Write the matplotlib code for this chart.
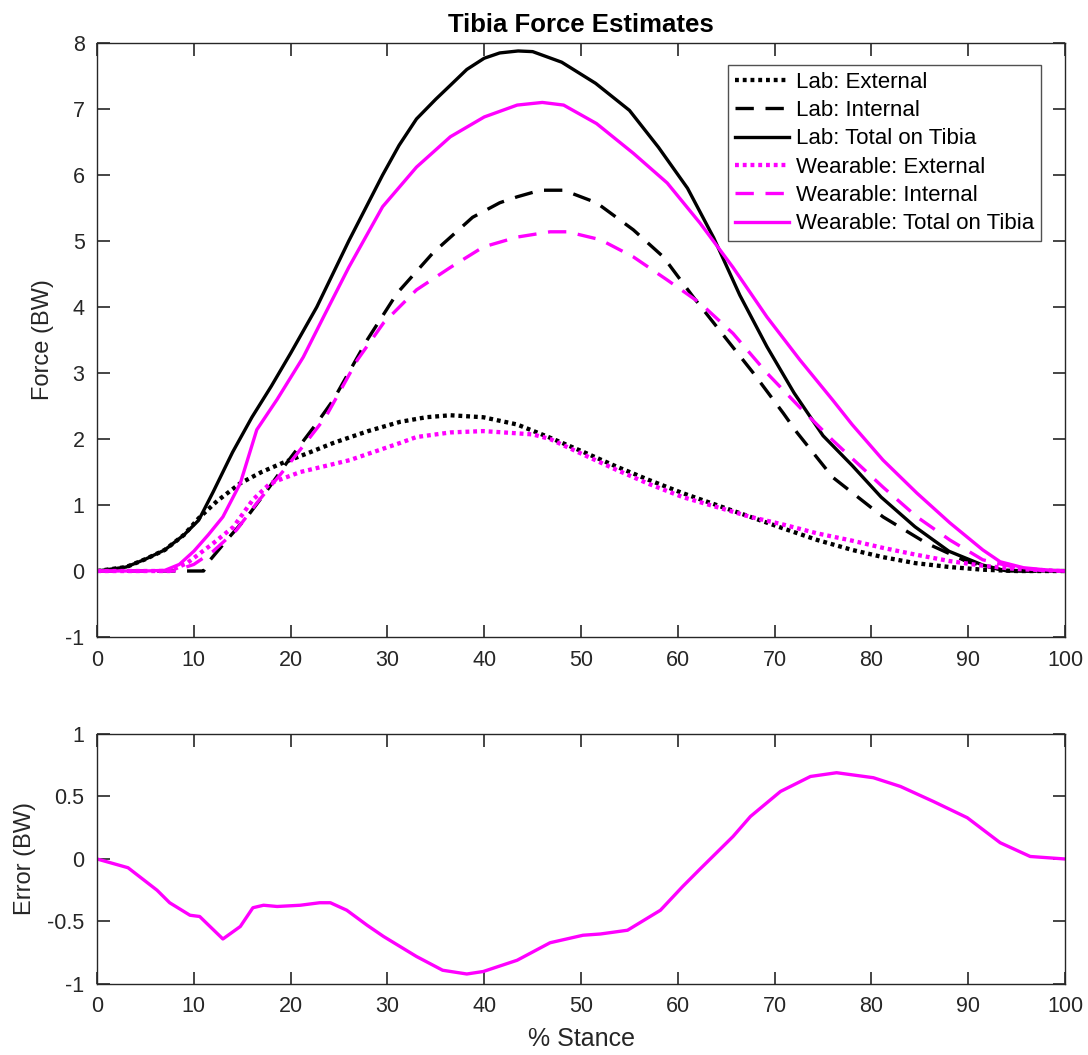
import numpy as np
import matplotlib
matplotlib.use('Agg')
import matplotlib.pyplot as plt

plt.rcParams['font.family'] = ['Liberation Sans', 'DejaVu Sans']
plt.rcParams['axes.unicode_minus'] = False

# % stance samples and force estimates (BW)
lab_ext_x = [0, 3, 5, 7, 9, 10.5, 12.4, 14.8, 17, 19.2, 21.5, 24.4, 28, 31.3, 34, 36.5, 39.9, 43.4, 46.8,
             50, 53.7, 57, 60.5, 64, 67.5, 71, 74.4, 78, 81.2, 84.5, 88.1, 91.5, 95, 100]
lab_ext_y = [0, 0.06, 0.18, 0.32, 0.55, 0.8, 1.06, 1.33, 1.5, 1.64, 1.77, 1.94, 2.12, 2.26, 2.33, 2.36, 2.33,
             2.22, 2.02, 1.82, 1.58, 1.38, 1.18, 1.0, 0.82, 0.64, 0.47, 0.32, 0.21, 0.12, 0.06, 0.02, 0.0, 0]

lab_int_x = [0, 5, 7, 10.5, 11, 11.7, 13.7, 15.5, 17.6, 19.6, 22.7, 24.4, 27.9, 31, 34.7, 38.8, 41.6, 43.4,
             45.8, 48.2, 51.6, 55.4, 58.5, 61.6, 65.1, 67.8, 70.9, 72.3, 76, 81.2, 85.7, 89.9, 93.3, 96, 100]
lab_int_y = [0, 0, 0, 0, 0, 0.17, 0.52, 0.82, 1.23, 1.64, 2.24, 2.59, 3.5, 4.21, 4.82, 5.36, 5.58, 5.67,
             5.77, 5.77, 5.58, 5.17, 4.76, 4.15, 3.5, 3.0, 2.39, 2.1, 1.42, 0.82, 0.42, 0.14, 0.02, 0, 0]

lab_tot_x = [0, 3, 5, 7, 9, 10.5, 12, 14, 16, 18, 20, 22.7, 26, 29.5, 31.2, 33, 35, 36.5, 38.2, 40, 41.6,
             43.5, 45, 48, 51.5, 55, 58, 61, 63.7, 66.4, 69.2, 72, 75, 78, 81, 84.5, 88, 91.5, 94, 97, 100]
lab_tot_y = [0, 0.06, 0.18, 0.32, 0.55, 0.77, 1.2, 1.8, 2.33, 2.8, 3.3, 4.0, 5.0, 6.0, 6.45, 6.85, 7.15,
             7.36, 7.6, 7.77, 7.85, 7.88, 7.87, 7.71, 7.39, 6.98, 6.42, 5.8, 5.05, 4.18, 3.4, 2.7, 2.05,
             1.6, 1.12, 0.67, 0.3, 0.09, 0.0, 0, 0]

wear_ext_x = [0, 5, 7.5, 9.3, 12, 14.1, 16.1, 17.9, 21, 26.1, 31.3, 33, 36.5, 39.9, 42, 45, 46.8, 50, 53.7,
              57, 60.5, 64, 67.5, 71, 74.4, 78, 81.2, 84.5, 88.1, 91.5, 95, 100]
wear_ext_y = [0, 0, 0, 0.12, 0.42, 0.67, 1.08, 1.33, 1.5, 1.68, 1.94, 2.03, 2.1, 2.12, 2.1, 2.07, 2.0,
              1.78, 1.53, 1.32, 1.12, 0.97, 0.82, 0.7, 0.57, 0.46, 0.35, 0.25, 0.15, 0.08, 0.03, 0]

wear_int_x = [0, 5, 8, 10, 12, 14.4, 16.5, 19.6, 21.7, 23.6, 26.9, 29.6, 33, 36.5, 39.9, 43.4, 46.8, 48.6,
              52, 55.4, 58.9, 62.3, 65.7, 69.2, 72.6, 76, 81.2, 84.7, 88.1, 91.5, 95, 97.5, 100]
wear_int_y = [0, 0, 0, 0.1, 0.3, 0.62, 1.03, 1.58, 1.97, 2.33, 3.2, 3.76, 4.26, 4.6, 4.91, 5.06, 5.14,
              5.14, 5.02, 4.76, 4.41, 4.06, 3.6, 3.0, 2.48, 1.98, 1.27, 0.82, 0.47, 0.17, 0.05, 0.01, 0]

wear_tot_x = [0, 3, 5, 7, 8.5, 10, 11.5, 13, 14.8, 16.5, 18.6, 21.3, 23.5, 26, 29.5, 33, 36.5, 40, 43.4,
              46, 48.2, 51.6, 55.4, 58.9, 62.3, 65.7, 69.2, 72.6, 76, 78, 81.2, 84.7, 88.1, 91.5, 93.3,
              95.7, 98.5, 100]
wear_tot_y = [0, 0, 0, 0.01, 0.1, 0.3, 0.55, 0.82, 1.33, 2.14, 2.6, 3.24, 3.88, 4.6, 5.52, 6.12, 6.58,
              6.88, 7.06, 7.1, 7.06, 6.78, 6.33, 5.88, 5.27, 4.6, 3.85, 3.2, 2.59, 2.22, 1.68, 1.18, 0.73,
              0.32, 0.14, 0.05, 0.01, 0]

err_x = [0, 3.2, 6.2, 7.5, 9.6, 10.6, 13, 14.8, 16.1, 17.2, 18.6, 21, 23, 24.1, 25.8, 27.9, 29.6, 31.3,
         33, 35.7, 38.2, 39.9, 43.4, 46.8, 50.2, 52, 54.8, 58.2, 60.5, 62.3, 64, 65.7, 67.5, 70.6, 73.7,
         76.4, 80.2, 83, 86.4, 89.9, 93.3, 96.4, 100]
err_y = [0, -0.07, -0.25, -0.35, -0.45, -0.46, -0.64, -0.54, -0.39, -0.37, -0.38, -0.37, -0.35, -0.35,
         -0.41, -0.53, -0.62, -0.7, -0.78, -0.89, -0.92, -0.9, -0.81, -0.67, -0.61, -0.6, -0.57, -0.41,
         -0.22, -0.08, 0.05, 0.18, 0.34, 0.54, 0.66, 0.69, 0.65, 0.58, 0.46, 0.33, 0.13, 0.02, 0.0]

x_ticks = list(range(0, 101, 10))
force_ticks = list(range(-1, 9))
err_ticks = [-1, -0.5, 0, 0.5, 1]
err_tick_labels = ['-1', '-0.5', '0', '0.5', '1']

AX_COLOR = '#262626'
MAG = '#ff00ff'
LW = 2.4
DOT = (0, (0.9, 0.9))
DASH = (0, (5.5, 3.5))
TICK_FS = 15.5
LABEL_FS = 17


def style_axes(ax):
    for s in ax.spines.values():
        s.set_color(AX_COLOR)
        s.set_linewidth(1.0)
    ax.tick_params(direction='in', length=9, width=1.2, colors=AX_COLOR, labelsize=TICK_FS,
                   top=True, right=True, pad=9)
    ax.set_xlim(0, 100)
    ax.set_xticks(x_ticks)


fig = plt.figure(figsize=(10.88, 10.55), dpi=100)
ax1 = fig.add_axes([0.0892, 0.3962, 0.8897, 0.563])
ax2 = fig.add_axes([0.0892, 0.0673, 0.8897, 0.237])

ax1.plot(lab_ext_x, lab_ext_y, color='k', lw=LW + 0.7, linestyle=DOT, label='Lab: External')
ax1.plot(lab_int_x, lab_int_y, color='k', lw=LW, linestyle=DASH, label='Lab: Internal')
ax1.plot(lab_tot_x, lab_tot_y, color='k', lw=LW, label='Lab: Total on Tibia')
ax1.plot(wear_ext_x, wear_ext_y, color=MAG, lw=LW + 0.7, linestyle=DOT, label='Wearable: External')
ax1.plot(wear_int_x, wear_int_y, color=MAG, lw=LW, linestyle=DASH, label='Wearable: Internal')
ax1.plot(wear_tot_x, wear_tot_y, color=MAG, lw=LW, label='Wearable: Total on Tibia')

style_axes(ax1)
ax1.set_ylim(-1, 8)
ax1.set_yticks(force_ticks)
ax1.set_ylabel('Force (BW)', fontsize=LABEL_FS, color=AX_COLOR, labelpad=8)
ax1.set_title('Tibia Force Estimates', fontsize=18.5, fontweight='bold', pad=8)

leg = ax1.legend(loc='upper right', bbox_to_anchor=(0.975, 0.963), fontsize=16, frameon=True,
                 fancybox=False, handlelength=2.45, handletextpad=0.3, borderpad=0.3,
                 labelspacing=0.33, borderaxespad=0)
leg.get_frame().set_edgecolor(AX_COLOR)
leg.get_frame().set_linewidth(1.0)

ax2.plot(err_x, err_y, color=MAG, lw=LW)
style_axes(ax2)
ax2.set_ylim(-1, 1)
ax2.set_yticks(err_ticks)
ax2.set_yticklabels(err_tick_labels)
ax2.set_ylabel('Error (BW)', fontsize=LABEL_FS, color=AX_COLOR, labelpad=8)
ax2.set_xlabel('% Stance', fontsize=LABEL_FS + 1, color=AX_COLOR, labelpad=7)

fig.savefig('out.png', dpi=100)
